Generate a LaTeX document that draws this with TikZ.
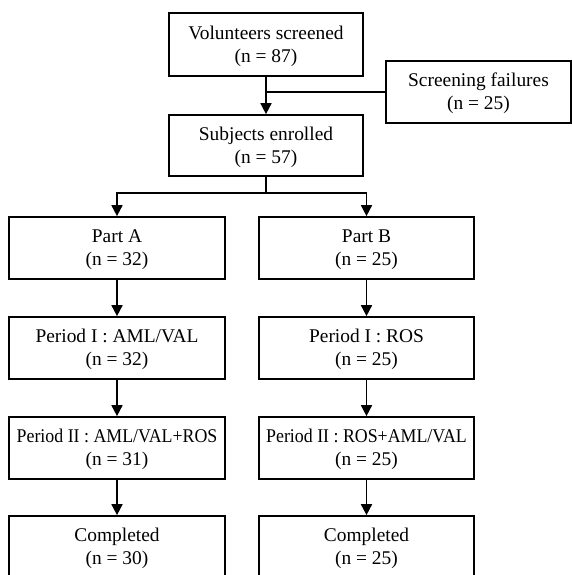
\documentclass[tikz,border=0pt]{standalone}
\usepackage{graphicx}
\usepackage{fontspec}
\setmainfont{Liberation Serif}
\usetikzlibrary{arrows.meta,calc}
\newcommand{\hstrut}{\rule{0pt}{17pt}}
\begin{document}
\begin{tikzpicture}[x=1pt,y=-1pt,
  box/.style={draw,line width=1.7pt,align=center,inner sep=0pt,font=\fontsize{19.4}{23}\selectfont},
  conn/.style={line width=1.7pt},
  arr/.style={conn,-{Triangle[length=11pt,width=11pt]}}]
\useasboundingbox (0,0) rectangle (572,575);
\node[box,minimum width=194pt,minimum height=63pt] (vol) at (266,44.5) {\hstrut Volunteers screened\\(n = 87)};
\node[box,minimum width=185pt,minimum height=62pt] (scr) at (478.5,92) {\hstrut Screening failures\\(n = 25)};
\node[box,minimum width=194pt,minimum height=61pt] (enr) at (266,145.5) {\hstrut Subjects enrolled\\(n = 57)};
\node[box,minimum width=216pt,minimum height=62pt] (pa) at (117,248) {\hstrut Part A\\(n = 32)};
\node[box,minimum width=215pt,minimum height=62pt] (pb) at (366.5,248) {\hstrut Part B\\(n = 25)};
\node[box,minimum width=216pt,minimum height=62pt] (pa1) at (117,348) {\hstrut Period I : AML/VAL\\(n = 32)};
\node[box,minimum width=215pt,minimum height=62pt] (pb1) at (366.5,348) {\hstrut Period I : ROS\\(n = 25)};
\node[box,minimum width=216pt,minimum height=62pt] (pa2) at (117,448) {\hstrut\scalebox{0.92}[1]{Period II : AML/VAL+ROS}\\(n = 31)};
\node[box,minimum width=215pt,minimum height=62pt] (pb2) at (366.5,448) {\hstrut\scalebox{0.92}[1]{Period II : ROS+AML/VAL}\\(n = 25)};
\node[box,minimum width=216pt,minimum height=62pt] (pa3) at (117,547) {\hstrut Completed\\(n = 30)};
\node[box,minimum width=215pt,minimum height=62pt] (pb3) at (366.5,547) {\hstrut Completed\\(n = 25)};
\draw[arr] (vol.south) -- (enr.north);
\draw[conn] (scr.west) -- (scr.west -| vol.south);
\draw[conn] (enr.south) -- ++(0,16) coordinate (br);
\draw[arr] (br) -| (pa.north);
\draw[arr] (br) -| (pb.north);
\draw[arr] (pa.south) -- (pa1.north);
\draw[arr] (pb.south) -- (pb1.north);
\draw[arr] (pa1.south) -- (pa2.north);
\draw[arr] (pb1.south) -- (pb2.north);
\draw[arr] (pa2.south) -- (pa3.north);
\draw[arr] (pb2.south) -- (pb3.north);
\end{tikzpicture}
\end{document}
